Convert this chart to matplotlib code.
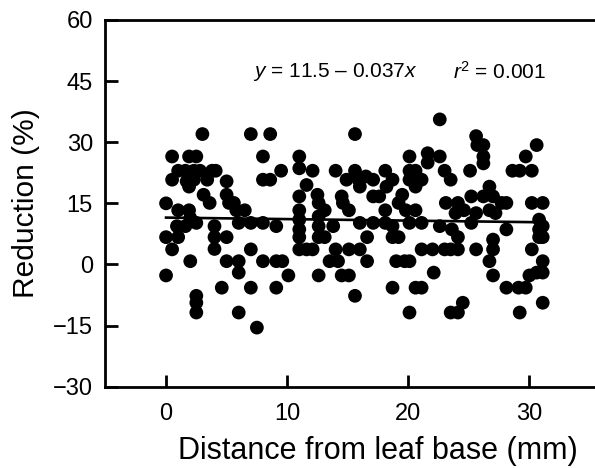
import matplotlib
matplotlib.use("Agg")
import matplotlib.pyplot as plt
import numpy as np

plt.rcParams["font.family"] = ["Liberation Sans", "DejaVu Sans"]
plt.rcParams["mathtext.fontset"] = "custom"
plt.rcParams["mathtext.rm"] = "Liberation Sans"
plt.rcParams["mathtext.it"] = "Liberation Sans:italic"

# Distance from leaf base (mm) and reduction (%)
DIST = [
    0, 0, 0, 0.5, 0.5, 0.5, 1.0, 1.0, 1.0, 0.9,
    1.6, 1.9, 1.7, 1.9, 1.6, 1.9, 2.0, 2.0,
    2.5, 2.3, 2.3, 2.5, 2.5, 2.5, 2.5, 3.0, 2.8,
    3.1, 3.4, 3.6, 3.8, 4.0, 4.0, 4.0, 4.1,
    4.6, 5.0, 5.0, 5.2, 5.0, 5.0,
    5.6, 5.8, 6.0, 6.0, 6.0, 6.0,
    6.5, 7.0, 7.0, 7.0, 7.0, 7.5,
    8.0, 8.0, 8.0, 8.0, 8.6, 8.6,
    9.1, 9.1, 9.1, 9.5, 9.6, 10.1,
    11.0, 11.0, 11.0, 11.0, 11.0, 11.0, 11.0, 11.0, 11.6, 11.6, 12.1, 12.1,
    12.5, 12.6, 12.6, 12.6, 12.6, 12.6, 13.1, 13.1,
    13.5, 13.8, 14.0, 14.0, 14.2, 14.5, 14.6, 14.5, 14.9, 15.1, 15.1, 15.1,
    15.6, 15.6, 15.6, 15.9, 16.0, 16.0, 16.0, 16.5, 16.6, 16.6,
    17.1, 17.1, 17.1, 17.6, 18.1, 18.1, 18.1, 18.2,
    18.7, 18.7, 18.7, 18.7, 19.0, 19.2, 19.2,
    19.5, 19.7, 19.8, 20.1, 20.1, 20.1, 20.1, 20.1, 20.1,
    20.6, 20.6, 20.6, 20.6, 21.1, 21.1, 21.1, 21.1, 21.6, 21.6, 22.0,
    22.1, 22.6, 22.6, 22.6, 23.0, 23.5, 23.0, 23.1, 23.6, 23.5, 23.5,
    24.1, 23.9, 24.1, 24.1, 24.1, 24.5, 24.6, 25.1, 25.2, 25.2, 25.6, 25.6,
    25.6, 25.7, 26.2, 26.2, 26.2, 26.2, 26.7, 26.7, 26.7, 27.0, 27.0, 27.0, 27.0, 27.2,
    27.7, 28.1, 28.1, 28.1, 28.6, 29.1, 29.2, 29.2,
    29.7, 29.7, 30.2, 30.2, 30.0, 30.2, 30.6, 30.6, 30.8, 30.8, 30.8,
    31.1, 31.1, 31.1, 31.1, 31.1, 31.1,
]
REDUCTION = [
    15.0, 6.7, -2.7, 26.5, 20.8, 3.7, 23.0, 13.3, 6.7, 9.4,
    23.0, 26.5, 20.4, 19.1, 9.4, 13.3, 11.4, 0.8,
    26.5, 23.0, 20.8, 10.2, -7.7, -9.4, -11.8, 32.0, 23.0,
    17.1, 20.8, 15.1, 23.0, 9.4, 6.7, 3.8, 23.0,
    -5.7, 20.4, 17.1, 15.1, 6.7, 0.8,
    15.1, 13.3, 10.2, 0.8, -2.0, -11.8,
    13.3, 32.0, 10.2, 3.7, -5.7, -15.5,
    26.5, 20.8, 10.2, 0.8, 32.0, 20.8,
    9.4, 0.8, -5.7, 23.0, 0.8, -2.7,
    26.5, 23.6, 16.7, 13.3, 11.0, 8.6, 6.7, 3.7, 19.5, 3.7, 23.0, 3.7,
    17.1, 15.1, 11.8, 9.4, 6.7, -2.7, 13.3, 6.7,
    0.8, 9.4, 23.0, 3.7, 0.8, 16.7, 15.1, -2.7, 20.8, 13.3, 3.7, -2.7,
    32.0, 23.0, -7.7, 20.8, 19.1, 10.2, 3.7, 21.6, 6.7, 0.8,
    20.8, 16.7, 10.2, 16.7, 23.0, 13.3, 10.2, 19.1,
    20.8, 9.4, 6.7, -5.7, 0.8, 15.1, 6.7,
    17.1, 0.8, 13.3, 26.5, 23.0, 20.8, 10.2, 0.8, -11.8,
    23.0, 19.1, 13.3, -5.7, 20.8, 10.2, 3.7, -5.7, 27.3, 25.0, 3.7,
    -2.0, 35.6, 26.5, 9.4, 23.0, 20.8, 3.7, 15.1, 8.6, 3.7, -11.8,
    15.1, 12.6, 6.7, 3.7, -11.8, -9.4, 13.3, 23.0, 16.7, 10.2, 12.6, 3.7,
    31.5, 29.3, 29.3, 26.5, 24.8, 16.7, 19.1, 13.3, 0.8, 6.1, 3.7, -2.7, 16.7, 12.6,
    15.1, 15.1, 8.6, -5.7, 23.0, -5.7, -11.8, 23.0,
    26.5, -5.7, 23.0, 3.7, -2.7, 15.1, 29.3, -2.0, 11.0, 8.6, 6.7,
    15.1, 9.4, 6.7, 0.8, -2.0, -9.4,
]

# fitted regression reported in the panel
INTERCEPT = 11.5
SLOPE = -0.037
FIT_X = [0, 31]

X_TICKS = [0, 10, 20, 30]
Y_TICKS = [-30, -15, 0, 15, 30, 45, 60]

fig = plt.figure(figsize=(5.95, 4.69), dpi=100)
# the original panel runs past the right edge of the picture (x up to 40)
ax = fig.add_axes([0.1773, 0.1755, 0.9160, 0.7819])

ax.scatter(DIST, REDUCTION, s=98, color="black", edgecolors="none", zorder=3)
fx = np.array(FIT_X, dtype=float)
ax.plot(fx, INTERCEPT + SLOPE * fx, color="black", lw=1.9, zorder=4)

ax.set_xlim(-5, 40)
ax.set_ylim(-30, 60)
ax.set_xticks(X_TICKS)
ax.set_yticks(Y_TICKS)
ax.tick_params(axis="both", direction="in", width=2.0, labelsize=17)
ax.tick_params(axis="x", length=9, pad=12)
ax.tick_params(axis="y", length=9.5, pad=9)
for side in ["left", "bottom", "top"]:
    ax.spines[side].set_linewidth(2.0)
ax.spines["right"].set_visible(False)

ax.set_xlabel("Distance from leaf base (mm)", fontsize=22, labelpad=8)
ax.set_ylabel("Reduction (%)", fontsize=21.5, labelpad=9)

ax.text(7.15, 47.3, r"$\it{y}$ = 11.5 – 0.037$\it{x}$", fontsize=15, va="center", ha="left")
ax.text(23.7, 47.3, r"$\it{r}$$^{2}$ = 0.001", fontsize=15, va="center", ha="left")

fig.savefig("out.png", dpi=100)
